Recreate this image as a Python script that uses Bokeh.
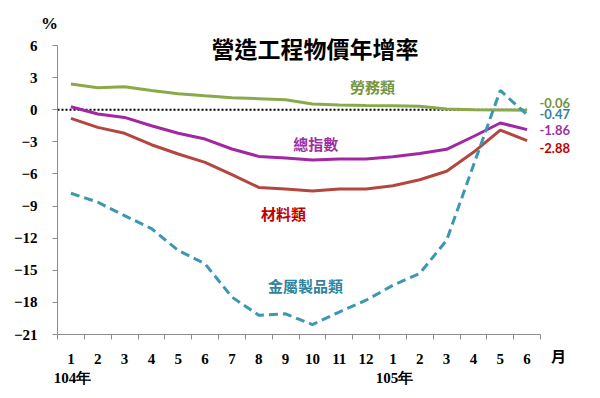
from bokeh.plotting import figure
from bokeh.models import Range1d, FixedTicker, Label
from bokeh.embed import file_html
from bokeh.resources import INLINE

months = ["1", "2", "3", "4", "5", "6", "7", "8", "9", "10", "11", "12",
          "1", "2", "3", "4", "5", "6"]
labor = [2.4, 2.05, 2.15, 1.8, 1.5, 1.3, 1.12, 1.03, 0.93, 0.53, 0.45, 0.4,
         0.37, 0.33, 0.06, 0.0, -0.02, -0.06]
total = [0.28, -0.4, -0.72, -1.5, -2.2, -2.74, -3.67, -4.36, -4.5, -4.7, -4.6, -4.6,
         -4.4, -4.08, -3.7, -2.5, -1.24, -1.86]
material = [-0.81, -1.65, -2.2, -3.27, -4.14, -4.92, -6.07, -7.26, -7.4, -7.6, -7.4, -7.4,
            -7.1, -6.54, -5.75, -3.98, -1.9, -2.88]
metal = [-7.8, -8.64, -9.9, -11.1, -13.15, -14.4, -17.5, -19.2, -19.07, -20.07, -18.9, -17.8,
         -16.4, -15.3, -12.2, -5.2, 1.8, -0.47]

series_names = ["勞務類", "總指數", "材料類", "金屬製品類"]
series_values = [labor, total, material, metal]
line_colors = ["#8AAA4A", "#A326A3", "#B5463F", "#3C97B0"]
text_colors = ["#77933C", "#9F2FA0", "#C00000", "#31849B"]
line_dashes = ["solid", "solid", "solid", "9 5"]
# name label anchors (x in month-slot units, y in %)
name_pos = [(11.74, 2.17), (9.62, -3.16), (8.42, -9.7), (9.24, -16.42)]

end_texts = ["-0.06", "-0.47", "-1.86", "-2.88"]
end_colors = ["#77933C", "#31849B", "#9F2FA0", "#C00000"]
end_label_y = [0.6, -0.37, -1.94, -3.53]

year_labels = ["104年", "105年"]
year_pos = [0.56, 12.56]
y_ticks = [6, 3, 0, -3, -6, -9, -12, -15, -18, -21]
y_min, y_max = -21, 6

n = len(months)
xs = [i + 0.5 for i in range(n)]

W, H = 592, 390
px_per_x = 483 / n
px_per_y = 289 / (y_max - y_min)
x0_px, ybot_px = 57, 334

p = figure(width=W, height=H, output_backend="svg", toolbar_location=None,
           x_range=Range1d(-x0_px / px_per_x, (W - x0_px) / px_per_x),
           y_range=Range1d(y_min - (H - ybot_px) / px_per_y, y_min + ybot_px / px_per_y),
           min_border=0, min_border_left=0, min_border_right=0,
           min_border_top=0, min_border_bottom=0)
p.outline_line_color = None
p.xgrid.grid_line_color = None
p.ygrid.grid_line_color = None
p.background_fill_color = "white"

# x axis
xa = p.xaxis[0]
xa.fixed_location = y_min
xa.bounds = (0, n)
xa.ticker = FixedTicker(ticks=xs, minor_ticks=list(range(n + 1)))
xa.major_label_overrides = {x: m for x, m in zip(xs, months)}
xa.major_tick_line_color = None
xa.major_tick_out = 0
xa.major_tick_in = 0
xa.minor_tick_out = 5
xa.minor_tick_in = 0
xa.minor_tick_line_color = "#8c8c8c"
xa.axis_line_color = "#8c8c8c"
xa.major_label_standoff = 14
xa.major_label_text_font = "Liberation Serif"
xa.major_label_text_font_style = "bold"
xa.major_label_text_font_size = "15px"
xa.major_label_text_color = "black"

# y axis
ya = p.yaxis[0]
ya.fixed_location = 0
ya.bounds = (y_min, y_max)
ya.ticker = FixedTicker(ticks=y_ticks)
ya.major_tick_out = 5
ya.major_tick_in = 0
ya.minor_tick_line_color = None
ya.major_tick_line_color = "#8c8c8c"
ya.axis_line_color = "#8c8c8c"
ya.major_label_standoff = 15
ya.major_label_text_font = "Liberation Serif"
ya.major_label_text_font_style = "bold"
ya.major_label_text_font_size = "15px"
ya.major_label_text_color = "black"

# zero reference line
p.line([0, xs[-1]], [0, 0], line_color="black", line_width=2, line_dash="2 2")

for vals, c, d in zip(series_values, line_colors, line_dashes):
    p.line(xs, vals, line_color=c, line_width=3, line_dash=d)

for name, (lx, ly), c in zip(series_names, name_pos, text_colors):
    p.add_layout(Label(x=lx, y=ly, text=name, text_align="center", text_baseline="middle",
                       text_font="Noto Sans CJK TC", text_font_style="bold",
                       text_font_size="15px", text_color=c))

for t, ly, c in zip(end_texts, end_label_y, end_colors):
    p.add_layout(Label(x=17.96, y=ly, text=t, text_align="left", text_baseline="middle",
                       text_font="Lato", text_font_style="bold",
                       text_font_size="13px", text_color=c))

for t, lx in zip(year_labels, year_pos):
    p.add_layout(Label(x=lx, y=-25.1, text=t, text_align="center", text_baseline="middle",
                       text_font="Liberation Serif", text_font_style="bold",
                       text_font_size="15px", text_color="black"))

p.add_layout(Label(x=18.67, y=-22.96, text="月", text_align="center", text_baseline="middle",
                   text_font="Noto Sans CJK TC", text_font_style="bold",
                   text_font_size="15px", text_color="black"))
p.add_layout(Label(x=-0.3, y=8.1, text="%", text_align="center", text_baseline="middle",
                   text_font="Liberation Serif", text_font_style="bold",
                   text_font_size="17px", text_color="black"))
p.add_layout(Label(x=9.6, y=5.8, text="營造工程物價年增率", text_align="center",
                   text_baseline="middle", text_font="Noto Sans CJK TC",
                   text_font_style="bold", text_font_size="23px", text_color="black"))

open("out.html", "w").write(file_html(p, INLINE))
